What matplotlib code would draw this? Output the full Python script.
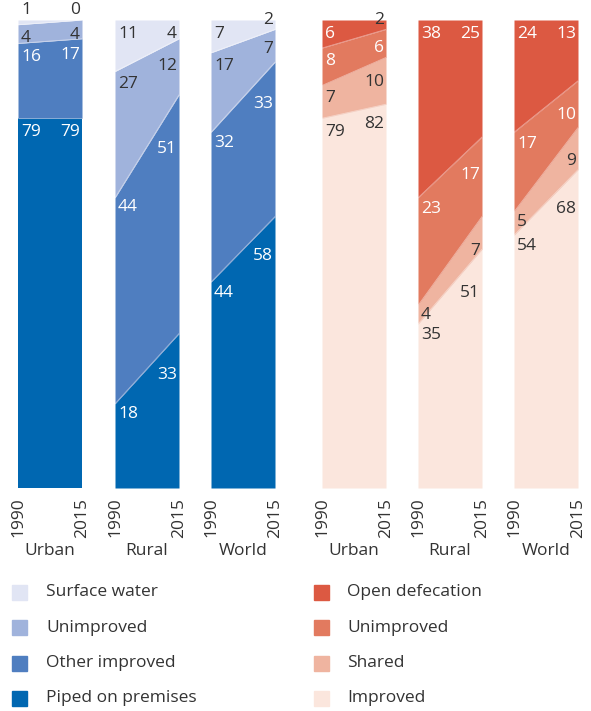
import numpy as np
import matplotlib.pyplot as plt
from matplotlib.patches import Rectangle

plt.rcParams['font.family'] = ['Open Sans', 'DejaVu Sans']

years = [1990, 2015]
areas = ['Urban', 'Rural', 'World']

# Drinking water, listed bottom of the stack to top: [1990, 2015]
water_series = ['Piped on premises', 'Other improved', 'Unimproved', 'Surface water']
water_colors = ['#0067b1', '#4f7ec0', '#a0b3dc', '#e1e5f4']
water_text = ['white', 'white', '#333333', '#333333']
water_urban = [[79, 79], [16, 17], [4, 4], [1, 0]]
water_rural = [[18, 33], [44, 51], [27, 12], [11, 4]]
water_world = [[44, 58], [32, 33], [17, 7], [7, 2]]

# Sanitation, listed bottom of the stack to top: [1990, 2015]
san_series = ['Improved', 'Shared', 'Unimproved', 'Open defecation']
san_colors = ['#fbe6dd', '#efb4a0', '#e27a5f', '#dc5942']
san_text = ['#333333', '#333333', 'white', 'white']
san_urban = [[79, 82], [7, 10], [8, 6], [6, 2]]
san_rural = [[35, 51], [4, 7], [23, 17], [38, 25]]
san_world = [[54, 68], [5, 9], [17, 10], [24, 13]]

W, H = 591, 711
BAR_W = 64
TOP, BOT = 20, 488
FS = 12.5
GREY = '#333333'

fig = plt.figure(figsize=(W / 100, H / 100), dpi=100)


def draw_panel(left, name, values, colors, text_colors):
    ax = fig.add_axes([left / W, 1 - BOT / H, BAR_W / W, (BOT - TOP) / H])
    vals = np.array(values, dtype=float)
    tops = np.cumsum(vals, axis=0)
    bottoms = tops - vals
    for i in range(len(vals)):
        ax.fill_between(years, bottoms[i], tops[i], color=colors[i], lw=0)
        if i < len(vals) - 1:
            ax.plot(years, tops[i], color='white', lw=0.6, alpha=0.45)

    # value labels tucked under the upper edge of each band
    px = (years[1] - years[0]) / BAR_W
    py = 100 / (BOT - TOP)
    for i in range(len(vals)):
        for s in (0, 1):
            v = vals[i, s]
            txt = f'{v:.0f}'
            w = (len(txt) * 10 + 3) * px
            if s == 0:
                x = years[0] + 3 * px
                xs = [x, x + w]
                ha = 'left'
            else:
                x = years[1] - 2 * px
                xs = [x - w, x]
                ha = 'right'
            edge = min(np.interp(xs, years, tops[i]))
            top_band = i == len(vals) - 1
            color = text_colors[i]
            if top_band and v <= 1:
                y, va, color = 100 + 2 * py, 'bottom', GREY
            elif top_band and v < 3:
                y, va, color = 100, 'center', GREY
            else:
                y, va = edge - 6 * py, 'top'
            ax.text(x, y, txt, ha=ha, va=va, color=color,
                    fontsize=FS, clip_on=False)

    ax.set_xlim(years)
    ax.set_ylim(0, 100)
    ax.set_yticks([])
    ax.set_xticks(years)
    ax.set_xticklabels([str(y) for y in years], rotation=90)
    ax.tick_params(axis='x', length=0, pad=7, labelsize=FS, labelcolor=GREY)
    ax.set_xlabel(name, fontsize=FS, color=GREY, labelpad=4)
    for sp in ax.spines.values():
        sp.set_visible(False)


water_left = [18, 115, 211]
san_left = [322, 418, 514]
for left, name, vals in zip(water_left, areas, [water_urban, water_rural, water_world]):
    draw_panel(left, name, vals, water_colors, water_text)
for left, name, vals in zip(san_left, areas, [san_urban, san_rural, san_world]):
    draw_panel(left, name, vals, san_colors, san_text)


def draw_legend(x_sq, x_txt, series, colors):
    for k, (name, c) in enumerate(zip(series[::-1], colors[::-1])):
        yc = 592 + 35.5 * k
        fig.add_artist(Rectangle((x_sq / W, 1 - (yc + 7.5) / H), 15 / W, 15 / H,
                                 color=c, transform=fig.transFigure))
        fig.text(x_txt / W, 1 - yc / H, name, va='center', ha='left',
                 fontsize=FS, color=GREY)


draw_legend(12, 46, water_series, water_colors)
draw_legend(314, 347, san_series, san_colors)

fig.savefig('out.png', dpi=100)
